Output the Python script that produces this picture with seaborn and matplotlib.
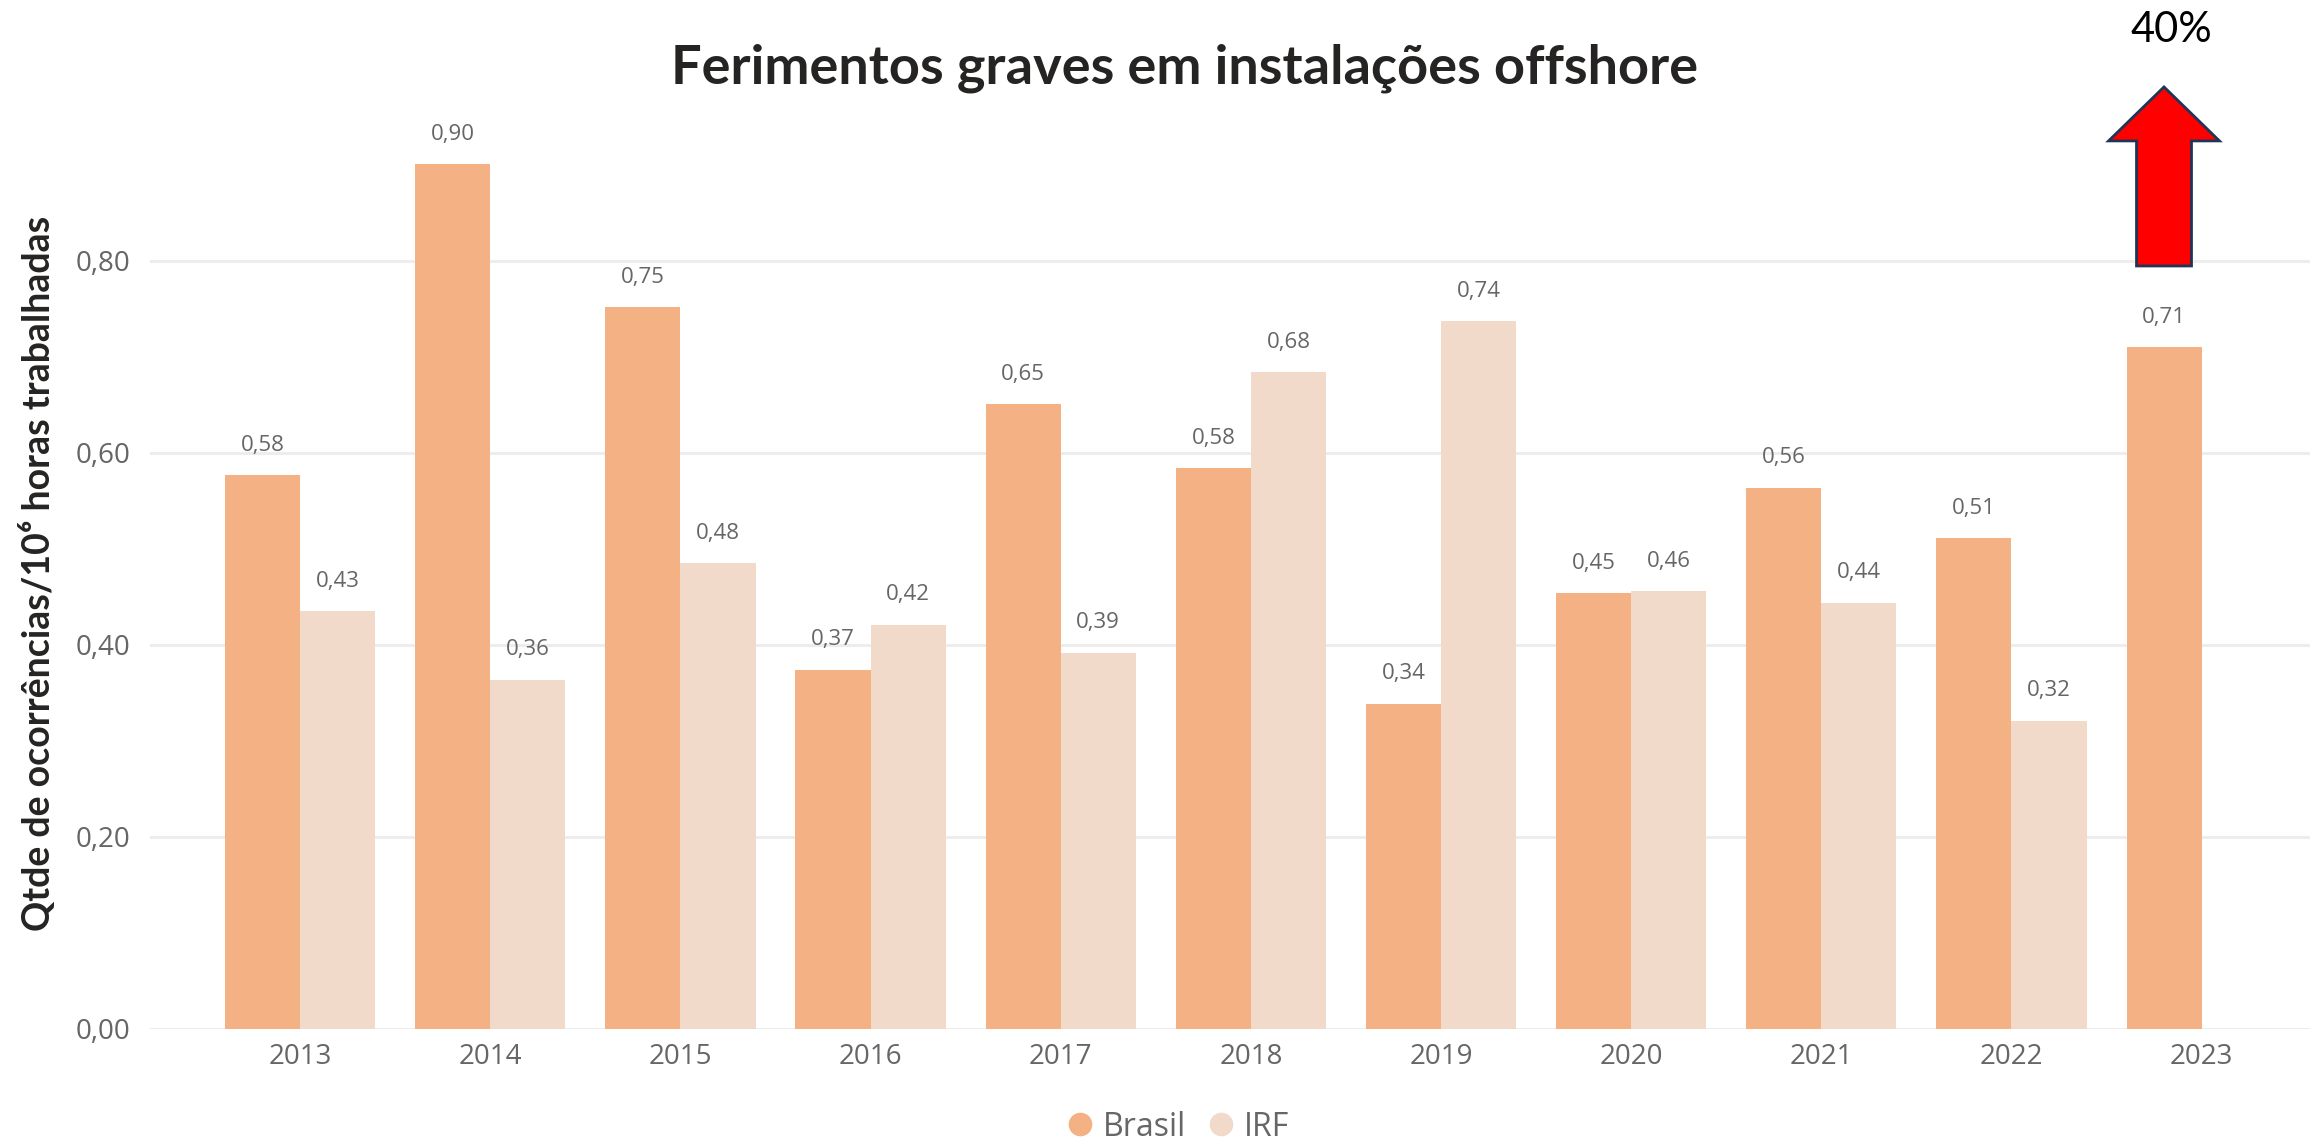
import numpy as np
import pandas as pd
import matplotlib
matplotlib.use("Agg")
import matplotlib.pyplot as plt
import seaborn as sns
from matplotlib.patches import FancyArrow
from matplotlib.ticker import FuncFormatter


# Dados

anos = ["2013", "2014", "2015", "2016", "2017", "2018",
        "2019", "2020", "2021", "2022", "2023"]

brasil = [0.577, 0.901, 0.752, 0.374, 0.651, 0.584,
          0.339, 0.454, 0.564, 0.511, 0.710]

irf = [0.435, 0.364, 0.485, 0.421, 0.392, 0.684,
       0.737, 0.456, 0.444, 0.321, np.nan]

series = ["Brasil", "IRF"]
cores = ["#F4B183", "#F2DACB"]

titulo = "Ferimentos graves em instalações offshore"
ylabel = "Qtde de ocorrências/10⁶ horas trabalhadas"
yticks = [0.0, 0.2, 0.4, 0.6, 0.8]
destaque = "40%"


df = pd.DataFrame({
    "Ano": anos * 2,
    "Serie": ["Brasil"] * len(anos) + ["IRF"] * len(anos),
    "Valor": brasil + irf
})


def virgula(v, pos=None):
    return f"{v:.2f}".replace(".", ",")


sns.set_theme(style="white")
plt.rcParams["font.family"] = ["Open Sans", "DejaVu Sans"]

fig = plt.figure(figsize=(23.1, 11.41), dpi=100)
ax = fig.add_axes([0.0649, 0.0982, 0.9351, 0.7993])

sns.barplot(
    data=df,
    x="Ano",
    y="Valor",
    hue="Serie",
    hue_order=series,
    palette=cores,
    width=0.79,
    saturation=1,
    linewidth=0,
    legend=False,
    ax=ax
)

# rotulos nas barras
for cont in ax.containers:
    labels = [
        "" if np.isnan(v) else virgula(v)
        for v in cont.datavalues
    ]
    ax.bar_label(cont, labels=labels, padding=14,
                 fontsize=16, color="#666666")

ax.set_ylim(0, 0.95)
ax.set_xlim(-0.79, 10.57)
ax.set_yticks(yticks)
ax.yaxis.set_major_formatter(FuncFormatter(virgula))

ax.grid(axis="y", color="#EDEDED", linewidth=2.2)
ax.set_axisbelow(True)
sns.despine(ax=ax, left=True, bottom=True)

ax.tick_params(axis="both", length=0, labelsize=20,
               labelcolor="#666666")
ax.tick_params(axis="y", pad=14)
ax.tick_params(axis="x", pad=10)

ax.set_xlabel("")
ax.set_ylabel(ylabel, fontsize=27, fontweight="bold",
              color="#252423", labelpad=14,
              family=["Lato", "DejaVu Sans"])

fig.suptitle(titulo, x=0.513, y=0.962, fontsize=39,
             fontweight="bold", color="#252423",
             family=["Lato", "DejaVu Sans"])

# legenda
handles = [
    plt.Line2D([], [], marker="o", linestyle="", markersize=16,
               markerfacecolor=c, markeredgecolor=c)
    for c in cores
]
fig.legend(handles, series, loc="center",
           bbox_to_anchor=(0.51, 1 - 1127 / 1141),
           ncol=2, frameon=False, fontsize=23,
           labelcolor="#666666", handlelength=0.8,
           handletextpad=0.3, columnspacing=0.7)

# seta vermelha
seta = FancyArrow(
    0.9368, 0.7669, 0, 0.1569,
    width=0.0238, head_width=0.048, head_length=0.0473,
    length_includes_head=True,
    transform=fig.transFigure,
    facecolor="#FF0000", edgecolor="#1F3557", linewidth=2
)
fig.patches.append(seta)

fig.text(0.9398, 1 - 30 / 1141, destaque, fontsize=30,
         ha="center", va="center", color="black",
         family=["Lato", "DejaVu Sans"])

plt.savefig("out.png", dpi=100)
